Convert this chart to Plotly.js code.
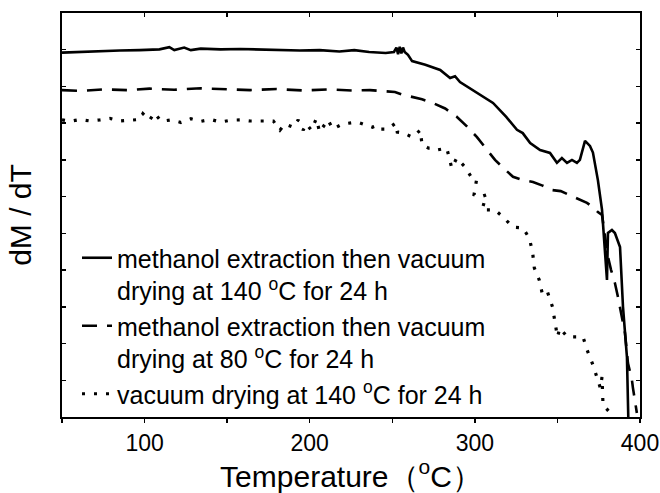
<!DOCTYPE html>
<html>
<head>
<meta charset="utf-8">
<script src="https://cdn.plot.ly/plotly-3.0.1.min.js"></script>
<style>html,body{margin:0;padding:0;background:#fff;}#chart{width:660px;height:493px;}</style>
</head>
<body>
<div id="chart"></div>
<script>
// Series 1: methanol extraction then vacuum drying at 140 °C for 24 h (solid)
const solidT = [50, 61, 73, 85, 97, 109, 115, 118, 124, 128, 134, 146, 158, 170, 182, 194, 206, 218, 227, 236, 246, 251, 252.5, 253.5, 254.5, 255.5, 256.5, 257.5, 259.5, 262, 270, 279, 285, 288, 291, 300, 307, 311, 319, 325.5, 329, 333.5, 339.5, 345.5, 349.7, 352.7, 355.8, 358.8, 361.8, 363.6, 366.7, 369.7, 371.5, 374.5, 377, 380, 380.6, 383, 384.8, 387.9, 389.7, 392.1, 393];
const solidV = [99.2, 99.4, 99.7, 99.8, 99.9, 100.1, 100.7, 99.9, 100.6, 99.9, 100.3, 100.1, 100.2, 100.0, 99.9, 99.8, 99.9, 99.5, 99.9, 99.4, 99.1, 99.4, 100.6, 98.8, 100.8, 99.0, 100.6, 99.4, 98.6, 96.9, 95.9, 94.5, 92.3, 92.8, 91.2, 88.7, 86.8, 85.5, 81.7, 78.2, 77.3, 74.6, 72.7, 71.9, 69.2, 70.5, 69.2, 70.0, 69.2, 70.0, 75.2, 73.8, 72.0, 64.5, 56.4, 37.3, 50.1, 50.9, 50.1, 46.3, 30.0, 16.3, -2];

// Series 2: methanol extraction then vacuum drying at 80 °C for 24 h (dashed)
const dashT = [50, 62, 75, 90, 103, 118, 134, 150, 164, 180, 196, 212, 226, 236.5, 245, 251.6, 256, 262.5, 268, 274.6, 282, 289.2, 295, 301.3, 307, 312.2, 318, 323.1, 329, 335.2, 341, 346.7, 352, 357.6, 362, 367.9, 372, 374.5, 377, 378, 380.6, 382.5, 384.8, 386.5, 387.9, 389.5, 390.9, 392.7, 395.1, 395.7, 396.9, 398.1];
const dashV = [89.0, 88.8, 89.2, 89.0, 89.4, 89.1, 89.5, 89.2, 89.0, 89.3, 88.9, 89.2, 88.9, 89.0, 88.7, 88.5, 87.8, 87.1, 86.5, 85.5, 84.0, 81.7, 79.2, 76.2, 73.0, 70.0, 67.5, 65.4, 64.5, 64.0, 63.0, 61.8, 61.5, 60.4, 59.5, 58.3, 57.0, 55.8, 55.0, 52.0, 43.6, 40.0, 36.5, 33.0, 30.0, 26.0, 22.9, 14.7, 10.1, 8.0, 4.6, 1.1];

// Series 3: vacuum drying at 140 °C for 24 h (dotted)
const dotT = [50, 55, 61, 67, 73, 79, 85, 91, 97, 99, 103, 106, 110, 116, 122, 128, 134, 140, 146, 152, 158, 164, 170, 178, 182, 185, 190, 193, 196, 198, 201, 204, 206, 211, 214, 220, 229, 238, 241, 243, 247, 252, 253, 257, 262, 267, 268, 272, 275, 277, 283, 285, 286, 289, 294, 299, 301, 299.5, 303, 307, 304.3, 312, 317, 323, 329, 333, 335, 336, 339, 341, 344, 347, 348.5, 350, 351.5, 356, 359, 365.5, 368, 371.5, 376, 377, 377.6, 382, 384];
const dotV = [80.9, 80.5, 81.0, 80.6, 80.9, 81.3, 80.6, 80.9, 81.0, 82.6, 80.8, 82.8, 80.5, 80.9, 80.2, 81.2, 80.5, 81.0, 80.3, 80.8, 80.9, 80.6, 80.6, 80.6, 78.1, 79.8, 78.9, 80.9, 78.1, 79.8, 78.1, 81.2, 77.6, 80.9, 78.4, 79.8, 80.3, 78.9, 79.4, 78.4, 78.4, 80.0, 77.6, 77.3, 76.2, 78.1, 74.1, 73.2, 73.2, 72.7, 73.2, 69.4, 67.8, 70.5, 68.1, 64.5, 64.5, 60.5, 59.9, 60.5, 56.4, 56.4, 54.5, 51.7, 51.5, 48.7, 44.7, 40.6, 37.3, 33.2, 34.0, 30.0, 25.9, 21.8, 24.2, 21.8, 21.8, 21.8, 18.2, 14.2, 7.9, 10.9, 3.3, 1.1, -2];

const seriesNames = [
  "methanol extraction then vacuum<br>drying at 140 <sup>o</sup>C for 24 h",
  "methanol extraction then vacuum<br>drying at 80 <sup>o</sup>C for 24 h",
  "vacuum drying at 140 <sup>o</sup>C for 24 h"
];

const FONT = "Liberation Sans, Arial, Helvetica, sans-serif";

const traces = [
  {x: solidT, y: solidV, type: "scatter", mode: "lines", name: seriesNames[0],
   line: {color: "#000", width: 2.6, dash: "solid"}},
  {x: dashT, y: dashV, type: "scatter", mode: "lines", name: seriesNames[1],
   line: {color: "#000", width: 2.6, dash: "15px,10px"}},
  {x: dotT, y: dotV, type: "scatter", mode: "lines", name: seriesNames[2],
   line: {color: "#000", width: 3.2, dash: "3px,9px"}},
  {x: [50], y: [null], xaxis: "x2", type: "scatter", mode: "lines", showlegend: false, hoverinfo: "skip"}
];

const layout = {
  width: 660, height: 493,
  margin: {l: 62, r: 20, t: 13, b: 76},
  paper_bgcolor: "#fff", plot_bgcolor: "#fff",
  font: {family: FONT, color: "#000", size: 23},
  showlegend: true,
  legend: {
    x: 0, xanchor: "left", y: 0, yanchor: "bottom",
    bgcolor: "rgba(0,0,0,0)", borderwidth: 0,
    font: {family: FONT, size: 25, color: "#000"},
    valign: "top", tracegroupgap: 0, indentation: 15
  },
  xaxis: {
    range: [50, 400], showgrid: false, zeroline: false,
    showline: true, linecolor: "#000", linewidth: 2, mirror: true,
    tickmode: "linear", tick0: 0, dtick: 100,
    ticks: "outside", ticklen: 4, tickwidth: 1.5, tickcolor: "#000",
    minor: {tickmode: "linear", tick0: 0, dtick: 50, ticks: "outside", ticklen: 4, tickwidth: 1.5, tickcolor: "#000", showgrid: false},
    tickfont: {family: FONT, size: 23, color: "#000"},
    title: {text: "Temperature（<sup>o</sup>C）", font: {family: FONT, size: 30, color: "#000"}, standoff: 6}
  },
  xaxis2: {
    overlaying: "x", side: "top", anchor: "y",
    range: [50, 400], showgrid: false, zeroline: false,
    showline: true, linecolor: "#000", linewidth: 2,
    tickmode: "linear", tick0: 0, dtick: 50,
    ticks: "inside", ticklen: 4, tickwidth: 1.5, tickcolor: "#000",
    showticklabels: false
  },
  yaxis: {
    range: [0, 110], showgrid: false, zeroline: false,
    showline: true, linecolor: "#000", linewidth: 2, mirror: "ticks",
    tickmode: "linear", tick0: 0, dtick: 10,
    ticks: "inside", ticklen: 4, tickwidth: 1.5, tickcolor: "#000",
    showticklabels: false,
    title: {text: "dM / dT", font: {family: FONT, size: 30, color: "#000"}, standoff: 20}
  }
};

Plotly.newPlot("chart", traces, layout, {staticPlot: true, displayModeBar: false});
</script>
</body>
</html>
